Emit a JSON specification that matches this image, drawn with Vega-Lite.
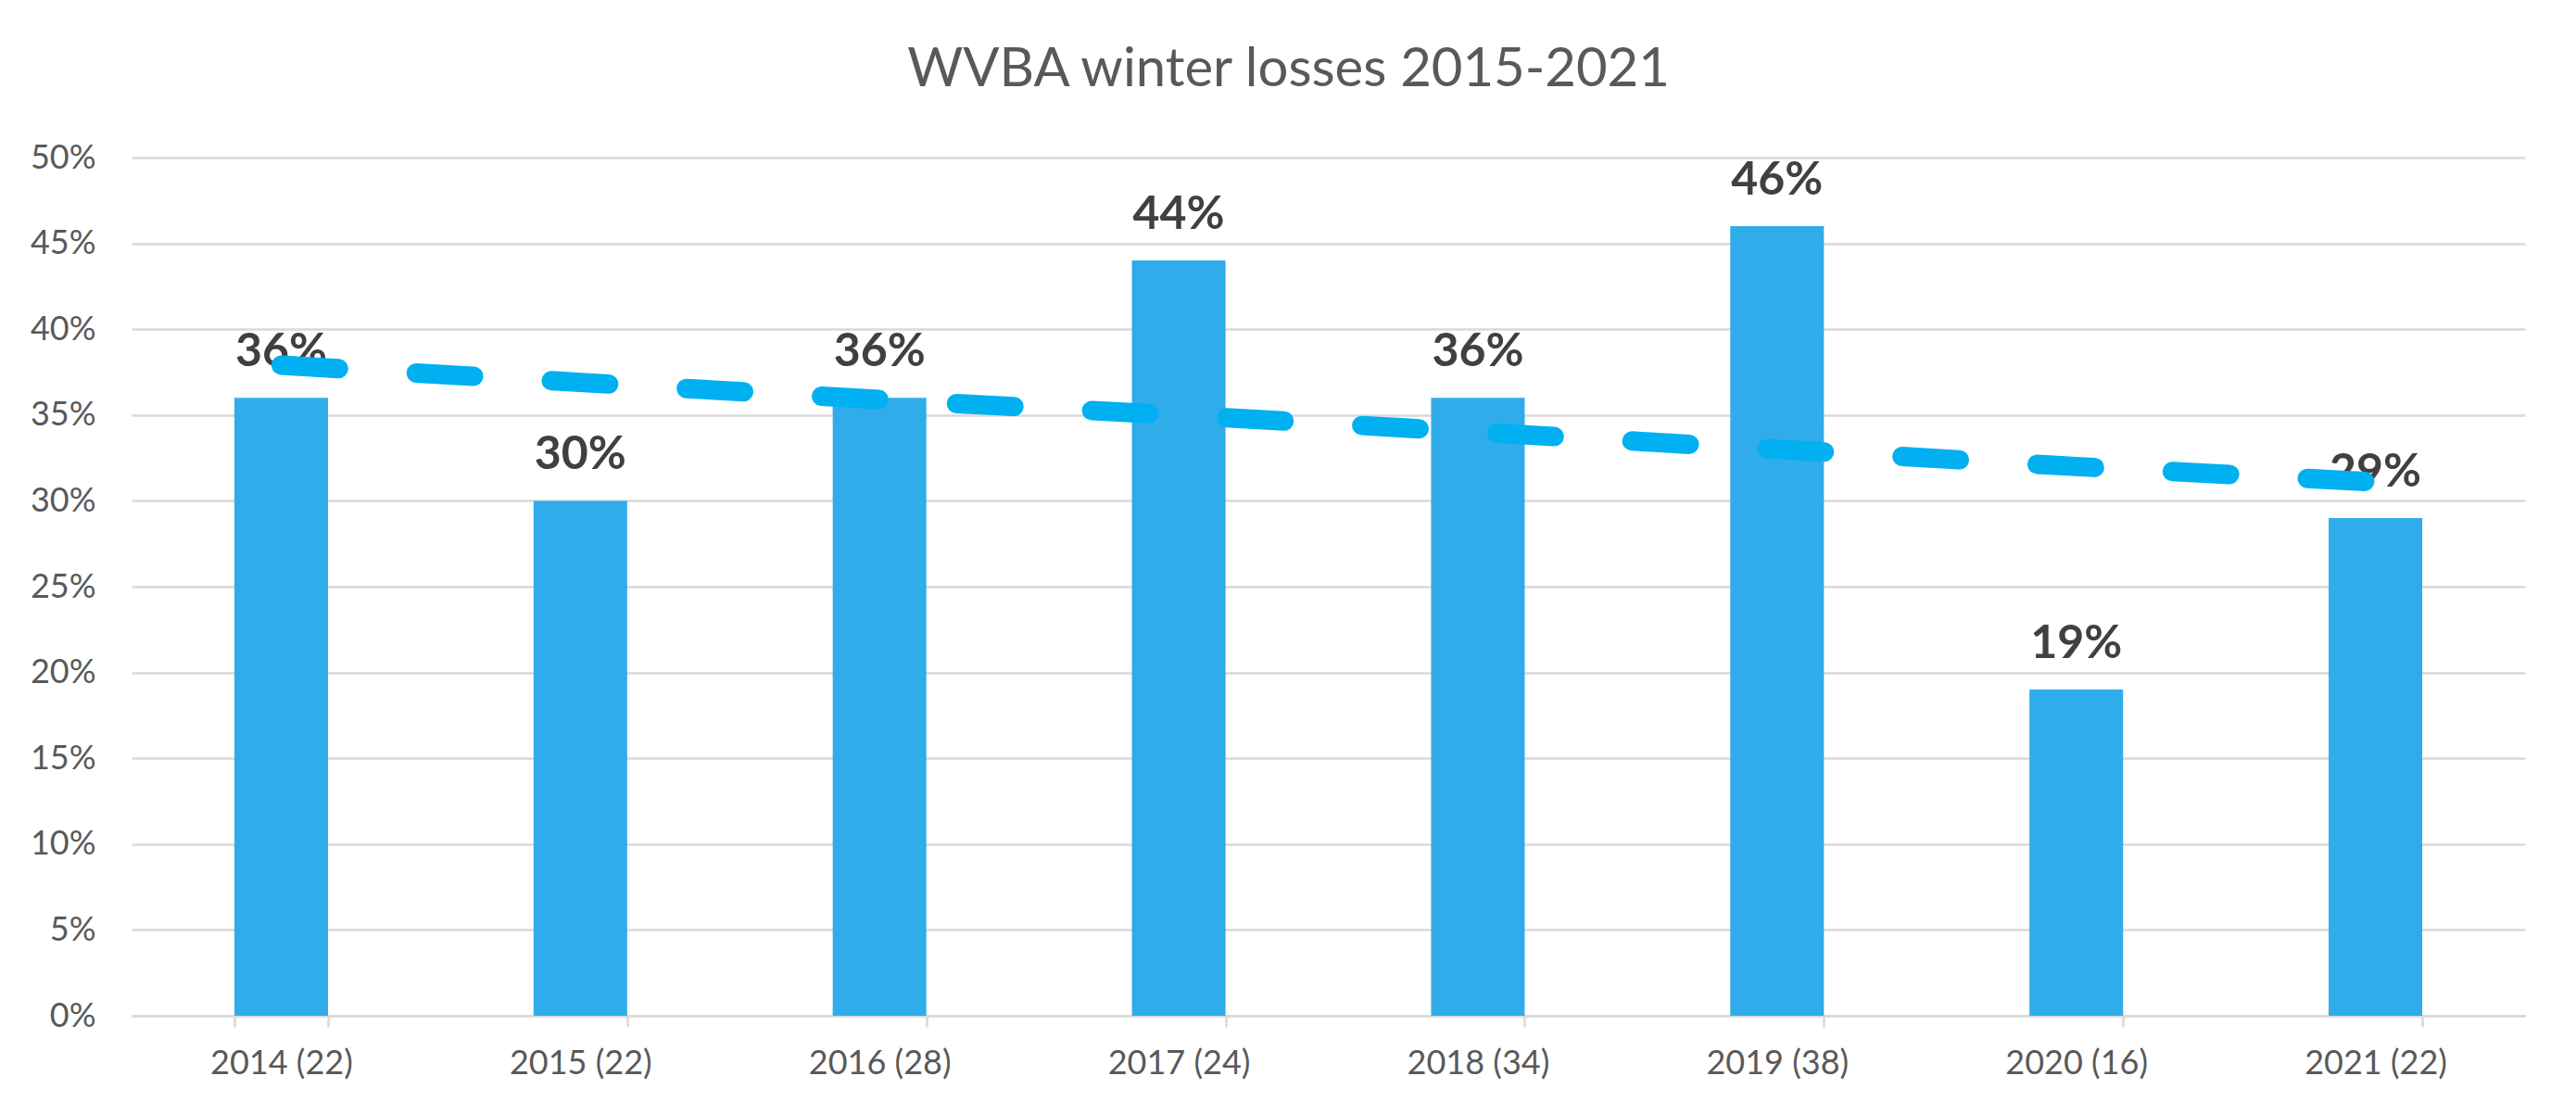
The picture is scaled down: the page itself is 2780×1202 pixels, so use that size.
{
  "$schema": "https://vega.github.io/schema/vega-lite/v6.json",
  "width": 2583,
  "height": 926,
  "autosize": {"type": "none"},
  "padding": {"left": 142, "top": 170, "right": 55, "bottom": 106},
  "background": "white",
  "config": {"view": {"stroke": null}},
  "title": {
    "text": "WVBA winter losses 2015-2021",
    "font": "Lato",
    "fontSize": 58,
    "fontWeight": "normal",
    "color": "#595959",
    "anchor": "middle",
    "baseline": "alphabetic",
    "dx": -43,
    "offset": 1
  },
  "data": {
    "values": [
      {"label": "2014 (22)", "loss": 0.36, "trend": 0.379},
      {"label": "2015 (22)", "loss": 0.30, "trend": 0.369},
      {"label": "2016 (28)", "loss": 0.36, "trend": 0.359},
      {"label": "2017 (24)", "loss": 0.44, "trend": 0.350},
      {"label": "2018 (34)", "loss": 0.36, "trend": 0.340},
      {"label": "2019 (38)", "loss": 0.46, "trend": 0.330},
      {"label": "2020 (16)", "loss": 0.19, "trend": 0.320},
      {"label": "2021 (22)", "loss": 0.29, "trend": 0.311}
    ]
  },
  "encoding": {
    "x": {
      "field": "label",
      "type": "nominal",
      "sort": null,
      "scale": {"paddingInner": 0.687, "paddingOuter": 0.3435},
      "axis": {
        "title": null,
        "labelAngle": 0,
        "labelFont": "Lato",
        "labelFontSize": 36,
        "labelColor": "#595959",
        "labelPadding": 22,
        "domainColor": "#D9D9D9",
        "domainWidth": 2.5,
        "ticks": true,
        "tickColor": "#D9D9D9",
        "tickWidth": 2.5,
        "tickSize": 12,
        "tickBand": "extent",
        "grid": false
      }
    }
  },
  "layer": [
    {
      "mark": {"type": "bar", "color": "#30ACEB"},
      "encoding": {
        "y": {
          "field": "loss",
          "type": "quantitative",
          "scale": {"domain": [0, 0.5], "nice": false},
          "axis": {
            "title": null,
            "values": [0, 0.05, 0.1, 0.15, 0.2, 0.25, 0.3, 0.35, 0.4, 0.45, 0.5],
            "format": ".0%",
            "labelFont": "Lato",
            "labelFontSize": 36,
            "labelColor": "#595959",
            "labelPadding": 39,
            "domain": false,
            "ticks": false,
            "grid": true,
            "gridColor": "#D9D9D9",
            "gridWidth": 2.5
          }
        }
      }
    },
    {
      "mark": {
        "type": "text",
        "font": "Lato",
        "fontSize": 50,
        "fontWeight": "bold",
        "color": "#404040",
        "baseline": "alphabetic",
        "align": "center",
        "dy": -34
      },
      "encoding": {
        "y": {"field": "loss", "type": "quantitative"},
        "text": {"field": "loss", "type": "quantitative", "format": ".0%"}
      }
    },
    {
      "mark": {
        "type": "line",
        "color": "#00B0F0",
        "strokeWidth": 21,
        "strokeDash": [62, 84],
        "strokeCap": "round"
      },
      "encoding": {
        "y": {"field": "trend", "type": "quantitative"}
      }
    }
  ]
}
